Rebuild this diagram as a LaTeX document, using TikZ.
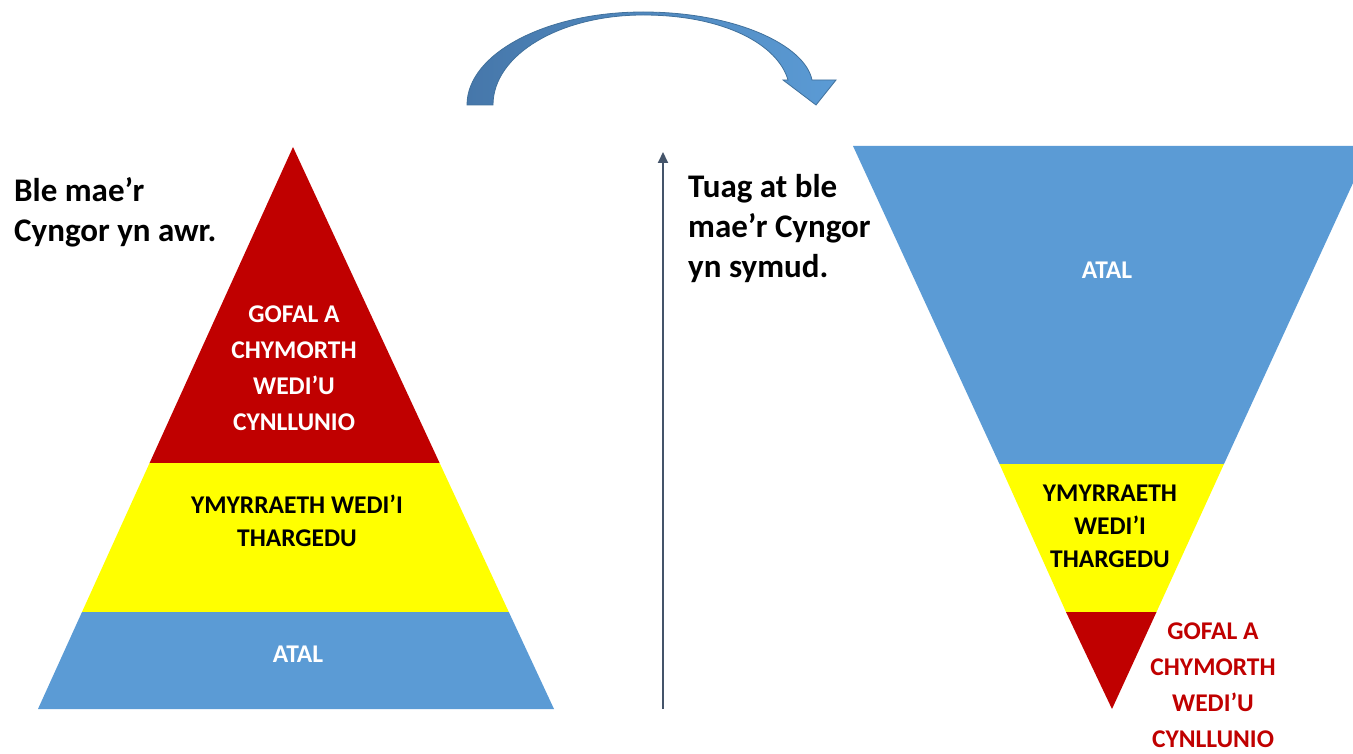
\documentclass[tikz,border=0pt]{standalone}
\usepackage{fontspec}
\setmainfont{Carlito}
\usetikzlibrary{arrows.meta}
\definecolor{pred}{HTML}{C00000}
\definecolor{pyel}{HTML}{FFFF00}
\definecolor{pblue}{HTML}{5B9BD5}
\definecolor{arrdark}{HTML}{44546A}
\definecolor{curvL}{HTML}{4677AA}
\definecolor{curvR}{HTML}{5B9BD5}
\definecolor{curvE}{HTML}{41719C}
\tikzset{
  head/.style={font=\fontsize{33}{40}\selectfont\bfseries, align=left, inner sep=0pt, anchor=west},
  lbl/.style={font=\fontsize{25.5}{36}\selectfont\bfseries, align=center, inner sep=0pt},
  lbly/.style={font=\fontsize{25.5}{33}\selectfont\bfseries, align=center, inner sep=0pt},
}
\begin{document}
\begin{tikzpicture}[x=1pt,y=-1pt]
\useasboundingbox (0,0) rectangle (1353,754);
\begin{scope}
\clip (0,0) rectangle (1353,754);
% left pyramid
\fill[pred] (293,147) -- (149.6,463) -- (439.6,463) -- cycle;
\fill[pyel] (149.6,463) -- (82,612) -- (508.8,612) -- (439.6,463) -- cycle;
\fill[pblue] (82,612) -- (38,709) -- (554,709) -- (508.8,612) -- cycle;
% right inverted pyramid
\fill[pblue] (853,146) -- (1370,146) -- (1224,464) -- (999.5,464) -- cycle;
\fill[pyel] (999.5,464) -- (1224,464) -- (1156.5,612) -- (1066,612) -- cycle;
\fill[pred] (1066,612) -- (1156.5,612) -- (1112,709) -- cycle;
\end{scope}
% curved arrow
\draw[curvE, line width=0.8pt, left color=curvL, right color=curvR]
  (467,105) .. controls (467,53.7) and (545.9,12) .. (643,12)
  .. controls (735,12) and (805,45) .. (812,80)
  -- (836,80) -- (816,105) -- (783,80) -- (788,80)
  .. controls (778,45) and (725,15) .. (643,15)
  .. controls (560,15) and (493,54.8) .. (493,105) -- cycle;
% vertical arrow
\coordinate (vbot) at (663,709);
\coordinate (vtop) at (663,152);
\draw[arrdark, line width=2pt, -{Triangle[length=11pt,width=10pt]}] (vbot) -- (vtop);
% headings
\node[head] (h1) at (14,212) {Ble mae’r\\Cyngor yn awr.};
\node[head] (h2) at (688,229) {Tuag at ble\\mae’r Cyngor\\yn symud.};
% left labels
\node[lbl, text=white] (l1) at (294,368.5) {GOFAL A\\CHYMORTH\\WEDI’U\\CYNLLUNIO};
\node[lbly] (l2) at (297,521) {YMYRRAETH WEDI’I\\THARGEDU};
\node[lbl, text=white] (l3) at (298,654) {ATAL};
% right labels
\node[lbl, text=white] (r1) at (1107,270) {ATAL};
\node[lbly] (r2) at (1110,526) {YMYRRAETH\\WEDI’I\\THARGEDU};
\node[lbl, text=pred] (r3) at (1213,685) {GOFAL A\\CHYMORTH\\WEDI’U\\CYNLLUNIO};
\end{tikzpicture}
\end{document}
